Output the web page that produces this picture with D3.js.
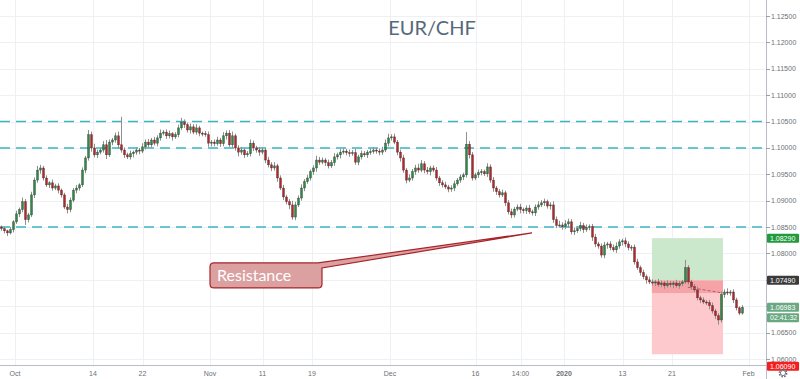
<!DOCTYPE html>
<html><head><meta charset="utf-8">
<script src="https://cdn.jsdelivr.net/npm/d3@7"></script>
<style>html,body{margin:0;padding:0;background:#fff;overflow:hidden}svg{display:block}</style>
</head><body><svg id="c" width="800" height="379"></svg>
<script>
// ---------- data ----------
const title = "EUR/CHF";
const firstOpen = 1.0850;
const closes = [
1.0847,1.0843,1.0839,1.0845,1.0860,1.0875,1.0883,1.0898,1.0864,1.0873,
1.0911,1.0939,1.0958,1.0962,1.0943,1.0930,1.0934,1.0924,1.0928,1.0920,
1.0911,1.0888,1.0883,1.0901,1.0920,1.0924,1.0930,1.0958,1.0981,1.1025,
1.1000,1.0987,1.0992,1.0996,1.1006,1.0987,1.1011,1.1015,1.1023,1.1006,
1.0996,1.0987,1.0983,1.0989,1.0992,1.0996,1.0994,1.1002,1.1011,1.1006,
1.1015,1.1009,1.1019,1.1028,1.1030,1.1023,1.1027,1.1021,1.1025,1.1038,
1.1049,1.1044,1.1034,1.1040,1.1030,1.1038,1.1028,1.1027,1.1025,1.1009,
1.1011,1.1008,1.1015,1.1008,1.1023,1.1028,1.1006,1.1023,1.1000,1.0992,
1.0996,1.0987,1.0989,1.1009,1.1000,1.0996,1.0992,1.0996,1.0977,1.0968,
1.0962,1.0966,1.0943,1.0924,1.0907,1.0898,1.0892,1.0869,1.0892,1.0905,
1.0924,1.0936,1.0943,1.0955,1.0962,1.0977,1.0973,1.0977,1.0972,1.0966,
1.0972,1.0983,1.0987,1.0992,1.0994,1.0991,1.0989,1.0991,1.0973,1.0983,
1.0989,1.0987,1.0992,1.0993,1.0996,1.0994,1.0992,1.0996,1.1009,1.1019,
1.1021,1.1011,1.0992,1.0981,1.0958,1.0939,1.0943,1.0955,1.0962,1.0958,
1.0970,1.0958,1.0955,1.0962,1.0958,1.0943,1.0934,1.0930,1.0926,1.0922,
1.0924,1.0932,1.0939,1.0945,1.0949,1.1007,1.0987,1.0943,1.0949,1.0953,
1.0955,1.0951,1.0964,1.0939,1.0924,1.0917,1.0911,1.0915,1.0896,1.0879,
1.0873,1.0884,1.0888,1.0883,1.0881,1.0886,1.0879,1.0877,1.0888,1.0892,
1.0896,1.0898,1.0890,1.0892,1.0864,1.0853,1.0854,1.0851,1.0856,1.0860,
1.0841,1.0843,1.0847,1.0853,1.0845,1.0849,1.0851,1.0831,1.0818,1.0814,
1.0797,1.0816,1.0818,1.0811,1.0807,1.0814,1.0822,1.0824,1.0818,1.0811,
1.0812,1.0784,1.0773,1.0764,1.0756,1.0750,1.0746,1.0744,1.0746,1.0741,
1.0744,1.0739,1.0743,1.0741,1.0744,1.0739,1.0743,1.0746,1.0773,1.0746,
1.0737,1.0731,1.0716,1.0712,1.0708,1.0707,1.0701,1.0691,1.0682,1.0674,
1.0722,1.0727,1.0725,1.0727,1.0712,1.0697,1.0687,1.0698];
// wick extension beyond the body, in pips
const upperWickPips = [
3,4,2,5,3,6,4,8,5,4, 6,5,8,6,4,5,3,6,4,5, 3,4,6,5,4,6,3,5,4,9, 6,8,5,4,7,9,5,4,6,8,
53,5,4,6,3,5,4,7,5,6, 4,6,5,7,4,5,6,3,5,6, 8,5,4,6,5,7,4,3,5,6, 4,5,6,4,7,5,6,8,4,5,
6,4,5,7,5,4,6,5,4,6, 5,7,4,5,6,4,5,8,6,5, 7,5,6,4,5,8,6,5,4,6, 5,7,4,6,5,4,6,5,7,4,
6,5,4,6,5,4,5,6,7,8, 5,6,4,5,6,4,7,5,6,8, 7,5,6,4,5,6,4,5,6,4, 5,6,4,5,4,23,6,5,4,6,
5,4,7,5,6,4,5,6,4,5, 6,4,5,6,4,5,6,4,5,7, 5,6,4,5,7,6,8,5,7,6, 5,6,4,7,5,6,4,5,6,4,
5,6,4,5,6,7,5,4,6,5, 4,5,6,4,5,4,6,5,4,6, 5,4,6,5,4,6,5,4,15,5, 4,5,6,4,5,4,5,6,4,5,
6,5,7,4,5,4,3,4];
const lowerWickPips = [
4,5,6,3,5,4,6,5,10,5, 4,6,5,7,5,4,6,5,4,6, 5,4,7,5,4,6,5,4,6,5, 7,5,6,4,5,8,4,6,5,7,
5,6,4,5,7,5,6,4,5,6, 5,4,6,5,4,6,5,7,4,5, 4,6,5,7,4,5,6,5,4,7, 6,5,4,6,5,7,4,6,5,8,
5,6,4,5,6,5,7,4,6,5, 6,5,7,4,6,5,8,5,6,4, 5,6,4,5,6,7,5,4,6,5, 4,6,5,7,4,5,6,4,5,6,
5,4,6,5,4,5,6,5,4,6, 5,4,6,7,5,6,4,5,6,5, 4,6,5,7,4,5,6,5,4,6, 5,6,4,5,6,5,7,5,4,6,
5,4,6,5,7,6,5,4,6,5, 6,5,4,7,5,6,4,5,6,5, 4,6,5,7,6,5,4,6,5,7, 5,6,4,5,6,4,5,7,6,5,
5,6,7,5,4,6,5,7,6,5, 6,5,4,6,5,7,4,5,6,4, 5,6,4,5,7,4,6,5,4,5, 6,4,5,6,4,5,7,5,6,9,
5,6,4,5,6,5,4,3];
const priceTicks = [1.125,1.120,1.115,1.110,1.105,1.100,1.095,1.090,1.085,1.080,1.075,1.070,1.065,1.060];
const timeTickLabels = ["Oct","14","22","Nov","11","19","Dec","16","14:00","2020","13","21","Feb"];
const timeTickIndex  = [5,31,47.5,70,87.5,104,130,158.5,173.5,188,207.5,224,249.5];
const levelLines = [1.105, 1.100, 1.085];
const positionTool = {startIdx:217.3, endIdx:241, entry:1.0749, target:1.0829, stop:1.0609, current:1.0725, lineFromIdx:229.3, lineFromPrice:1.0736};
const callout = {text:"Resistance", anchorIdx:177.3, anchorPrice:1.0839, boxIdx:70, boxPrice:1.0782};
const lastPrice = 1.06983;
const countdown = "02:41:32";

// ---------- layout ----------
const W = 800, H = 379, plotR = 766, plotB = 365;
const svg = d3.select("#c");
const x = d3.scaleLinear().domain([0, 248]).range([0, 744]);
const y = d3.scaleLinear().domain([1.06, 1.125]).range([359, 16]);
const fontAxis = "'Liberation Sans', Arial, sans-serif";

svg.append("rect").attr("width", W).attr("height", H).attr("fill", "#fff");
const plot = svg.append("g");
plot.append("clipPath").attr("id","clip").append("rect").attr("width", plotR).attr("height", plotB);
const pg = plot.append("g").attr("clip-path","url(#clip)");

// grid
pg.selectAll(".hg").data(priceTicks).join("line")
  .attr("x1",0).attr("x2",plotR).attr("y1",d=>Math.round(y(d))+0.5).attr("y2",d=>Math.round(y(d))+0.5)
  .attr("stroke","#eef0f3").attr("stroke-width",1);
pg.selectAll(".vg").data(timeTickIndex).join("line")
  .attr("y1",0).attr("y2",plotB).attr("x1",d=>Math.round(x(d))+0.5).attr("x2",d=>Math.round(x(d))+0.5)
  .attr("stroke","#eef0f3").attr("stroke-width",1);

// title
svg.append("text").attr("x",432).attr("y",35).attr("text-anchor","middle")
  .attr("font-family","Lato, 'Open Sans', sans-serif").attr("font-size",20).attr("fill","#56697a").text(title);

// level lines
pg.selectAll(".lvl").data(levelLines).join("line")
  .attr("x1",0).attr("x2",plotR).attr("y1",d=>y(d)).attr("y2",d=>y(d))
  .attr("stroke","#3fb3c6").attr("stroke-width",1.5).attr("stroke-dasharray","10,6");

// position tool
const P = positionTool;
const px0 = x(P.startIdx), px1 = x(P.endIdx);
pg.append("rect").attr("x",px0).attr("width",px1-px0).attr("y",y(P.target)).attr("height",y(P.entry)-y(P.target)).attr("fill","#cbe8cc");
pg.append("rect").attr("x",px0).attr("width",px1-px0).attr("y",y(P.entry)).attr("height",y(P.stop)-y(P.entry)).attr("fill","#fdc9cc");
pg.append("rect").attr("x",px0).attr("width",px1-px0).attr("y",y(P.entry)).attr("height",y(P.current)-y(P.entry)).attr("fill","#f6a3a8");

// candles
const candles = closes.map((c,i)=>{
  const o = i===0 ? firstOpen : closes[i-1];
  return {i, o, c, h: Math.max(o,c)+upperWickPips[i]*0.0001, l: Math.min(o,c)-lowerWickPips[i]*0.0001};
});
const cg = pg.append("g");
cg.selectAll(".wk").data(candles).join("line")
  .attr("x1",d=>x(d.i+0.5)).attr("x2",d=>x(d.i+0.5)).attr("y1",d=>y(d.h)).attr("y2",d=>y(d.l))
  .attr("stroke","#8f8f8f").attr("stroke-width",1);
cg.selectAll(".bd").data(candles).join("rect")
  .attr("x",d=>x(d.i+0.5)-1).attr("width",2)
  .attr("y",d=>y(Math.max(d.o,d.c))).attr("height",d=>Math.max(1,Math.abs(y(d.o)-y(d.c))))
  .attr("fill",d=>d.c>=d.o?"#2b8a47":"#b3262a")
  .attr("stroke","rgba(20,10,10,0.55)").attr("stroke-width",0.5);

// dashed line in position
pg.append("line").attr("x1",x(P.lineFromIdx)).attr("y1",y(P.lineFromPrice)).attr("x2",px1).attr("y2",y(P.current))
  .attr("stroke","#b06060").attr("stroke-width",1).attr("stroke-dasharray","3,2");

// callout
const bx = x(callout.boxIdx), by = y(callout.boxPrice), bw = 112, bh = 25, r = 4;
const tx = x(callout.anchorIdx), ty = y(callout.anchorPrice);
const path = d3.path();
path.moveTo(bx+r, by);
path.lineTo(bx+bw-4, by);
path.lineTo(tx, ty);
path.lineTo(bx+bw, by+5);
path.lineTo(bx+bw, by+bh-r);
path.quadraticCurveTo(bx+bw, by+bh, bx+bw-r, by+bh);
path.lineTo(bx+r, by+bh);
path.quadraticCurveTo(bx, by+bh, bx, by+bh-r);
path.lineTo(bx, by+r);
path.quadraticCurveTo(bx, by, bx+r, by);
path.closePath();
pg.append("path").attr("d",path.toString()).attr("fill","#dba1a1").attr("stroke","#a8232a").attr("stroke-width",1.2);
pg.append("text").attr("x",bx+7).attr("y",by+18).attr("font-family","Lato, sans-serif").attr("font-size",16)
  .attr("fill","#fff").text(callout.text);

// axes lines
svg.append("line").attr("x1",plotR+0.5).attr("x2",plotR+0.5).attr("y1",0).attr("y2",H).attr("stroke","#b8bcc4");
svg.append("line").attr("x1",0).attr("x2",plotR).attr("y1",plotB+0.5).attr("y2",plotB+0.5).attr("stroke","#b8bcc4");

// price axis
const ya = svg.append("g");
ya.selectAll(".tk").data(priceTicks).join("line")
  .attr("x1",plotR).attr("x2",plotR+4).attr("y1",d=>Math.round(y(d))+0.5).attr("y2",d=>Math.round(y(d))+0.5).attr("stroke","#9aa0a8");
ya.selectAll(".tl").data(priceTicks).join("text")
  .attr("x",771).attr("y",d=>y(d)+2.5).attr("font-family",fontAxis).attr("font-size",7).attr("fill","#6b6f76")
  .text(d=>d.toFixed(5));

// time axis
const xa = svg.append("g");
xa.selectAll(".tl").data(timeTickLabels).join("text")
  .attr("x",(d,i)=>x(timeTickIndex[i])).attr("y",376).attr("text-anchor","middle")
  .attr("font-family",fontAxis).attr("font-size",7).attr("fill","#6b6f76")
  .attr("font-weight",d=>d==="2020"?"bold":"normal").text(d=>d);

// price tags
function tag(price, label, fill, dy=0, txtFill="#fff"){
  const cy = y(price)+dy;
  svg.append("rect").attr("x",767).attr("y",cy-4.5).attr("width",32).attr("height",9).attr("rx",1).attr("fill",fill);
  svg.append("text").attr("x",770).attr("y",cy+2.5).attr("font-family",fontAxis).attr("font-size",7).attr("fill",txtFill).text(label);
}
tag(P.target, P.target.toFixed(5), "#1f9a3c");
tag(P.entry, P.entry.toFixed(5), "#3a3a3a");
tag(lastPrice, lastPrice.toFixed(5), "#6aa882");
tag(lastPrice, countdown, "#6aa882", 10.5);
tag(P.stop, P.stop.toFixed(5), "#f41e1e", 12);

// gear icon
const gear = svg.append("g").attr("transform","translate(783,373)");
gear.append("circle").attr("r",3.6).attr("fill","none").attr("stroke","#6b6f76").attr("stroke-width",1.6).attr("stroke-dasharray","1.6,1.2");
gear.append("circle").attr("r",2.6).attr("fill","#fff").attr("stroke","#6b6f76").attr("stroke-width",0.9);
</script>
</body></html>
